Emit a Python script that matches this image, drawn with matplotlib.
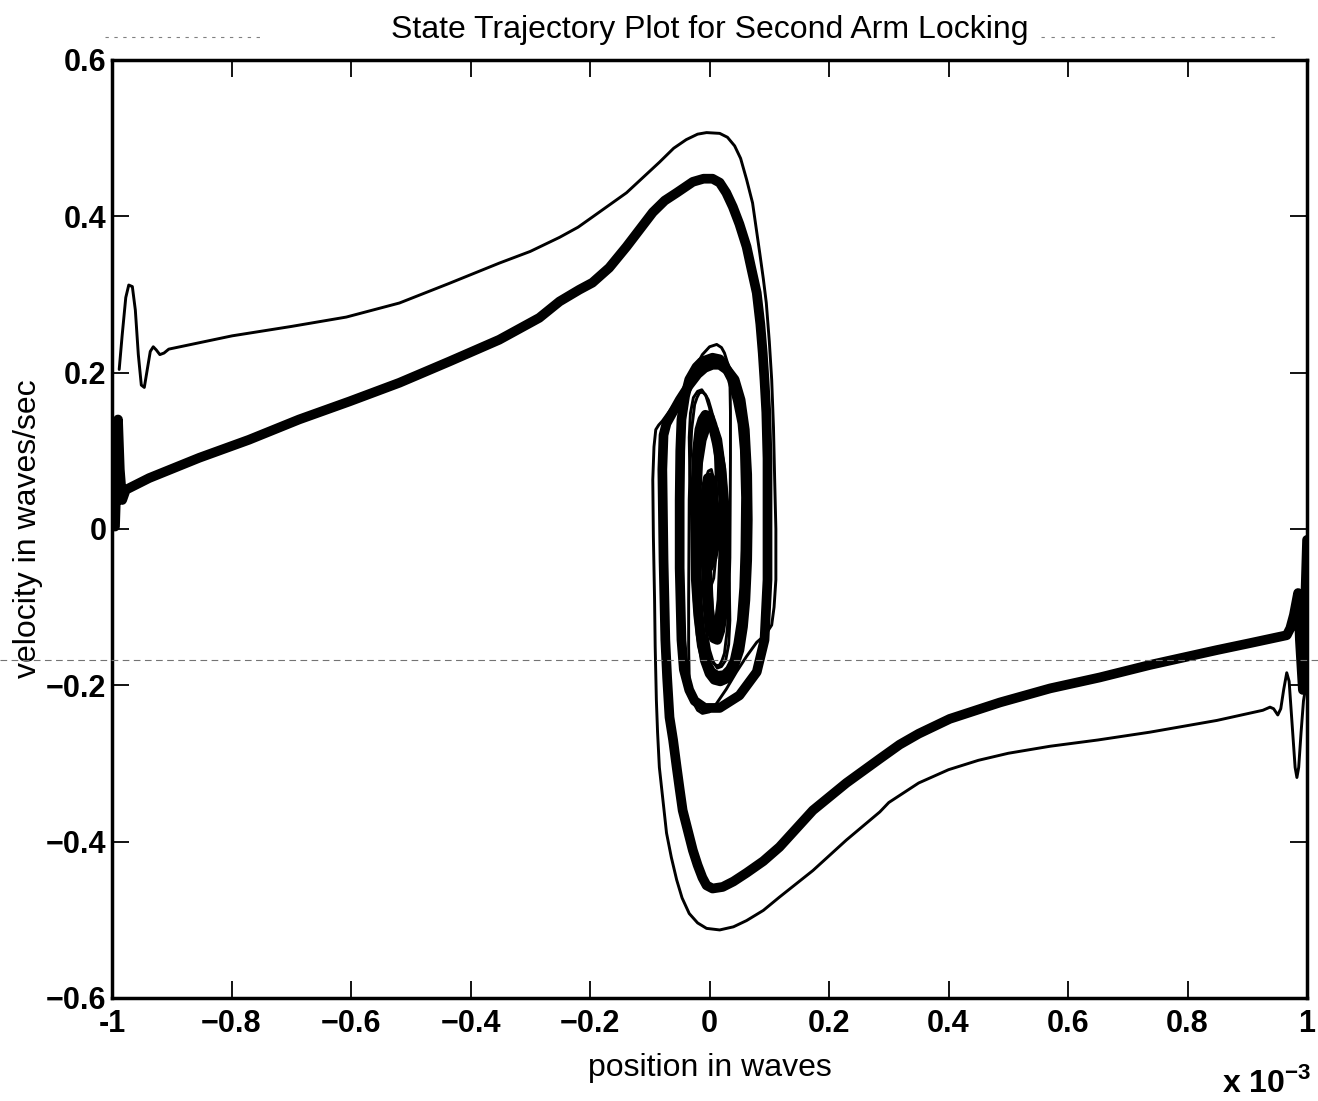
import numpy as np
import matplotlib.pyplot as plt
from matplotlib.lines import Line2D

# position in units of 1e-3 waves, velocity in waves/sec
# thin trajectory starting at the left edge
thin_a_x = [-0.988, -0.983, -0.977, -0.972, -0.966, -0.961, -0.956, -0.951, -0.946, -0.941,
            -0.936, -0.931, -0.926, -0.920, -0.913, -0.905, -0.799, -0.700, -0.608, -0.519,
            -0.436, -0.352, -0.300, -0.251, -0.220, -0.196, -0.139, -0.084, -0.060, -0.039,
            -0.020, -0.005, 0.017, 0.030, 0.042, 0.052, 0.062, 0.072, 0.084, 0.090,
            0.095, 0.100, 0.104, 0.107, 0.109, 0.111, 0.111, 0.108, 0.104, 0.094,
            0.079, 0.062, 0.045, 0.028, 0.012, 0.000, -0.012, -0.020, -0.025, -0.031,
            -0.034, -0.035, -0.035, -0.034, -0.032, -0.030, -0.027, -0.025, -0.021, -0.017,
            -0.012, -0.007, -0.002, 0.003, 0.012, 0.020, 0.026, 0.030, 0.033, 0.034,
            0.032, 0.027, 0.020, 0.013, 0.006, 0.000, -0.006, -0.010, -0.012, -0.012,
            -0.010, -0.007, -0.002, 0.003, 0.007, 0.010, 0.011, 0.010, 0.007, 0.003,
            -0.001, -0.003, 0.000]
thin_a_y = [0.204, 0.248, 0.296, 0.312, 0.310, 0.280, 0.223, 0.184, 0.181, 0.204,
            0.227, 0.233, 0.229, 0.223, 0.225, 0.230, 0.247, 0.259, 0.271, 0.289,
            0.314, 0.340, 0.355, 0.373, 0.386, 0.399, 0.430, 0.469, 0.487, 0.498,
            0.505, 0.507, 0.506, 0.501, 0.490, 0.474, 0.447, 0.417, 0.353, 0.320,
            0.289, 0.240, 0.191, 0.130, 0.063, 0.000, -0.065, -0.100, -0.123, -0.135,
            -0.145, -0.163, -0.183, -0.205, -0.223, -0.234, -0.236, -0.232, -0.225, -0.210,
            -0.193, -0.150, -0.091, 0.037, 0.090, 0.127, 0.146, 0.159, 0.168, 0.174,
            0.175, 0.172, 0.165, 0.152, 0.125, 0.088, 0.040, -0.014, -0.070, -0.117,
            -0.148, -0.168, -0.176, -0.178, -0.170, -0.155, -0.128, -0.091, -0.045, 0.000,
            0.040, 0.063, 0.074, 0.076, 0.062, 0.037, 0.005, -0.027, -0.045, -0.052,
            -0.040, -0.014, 0.018]

# thin trajectory starting at the right edge
thin_b_x = [0.997, 0.994, 0.990, 0.986, 0.983, 0.980, 0.975, 0.970, 0.966, 0.961,
            0.956, 0.951, 0.944, 0.938, 0.926, 0.849, 0.737, 0.650, 0.570, 0.500,
            0.450, 0.400, 0.350, 0.300, 0.285, 0.229, 0.173, 0.117, 0.090, 0.062,
            0.040, 0.017, -0.005, -0.020, -0.034, -0.046, -0.055, -0.064, -0.072, -0.084,
            -0.087, -0.089, -0.091, -0.092, -0.094, -0.095, -0.093, -0.090, -0.085, -0.079,
            -0.062, -0.045, -0.028, -0.012, 0.000, 0.012, 0.020, 0.025, 0.031, 0.034,
            0.035, 0.035, 0.034, 0.032, 0.030, 0.027, 0.025, 0.021, 0.017, 0.012,
            0.007, 0.002, -0.003, -0.012, -0.020, -0.026, -0.030, -0.033, -0.034, -0.032,
            -0.027, -0.020, -0.013, -0.006, 0.000, 0.006, 0.010, 0.012, 0.012, 0.010,
            0.007, 0.002, -0.003, -0.007, -0.010, -0.011, -0.010, -0.007, -0.003]
thin_b_y = [-0.206, -0.220, -0.260, -0.305, -0.318, -0.305, -0.250, -0.195, -0.184, -0.205,
            -0.230, -0.238, -0.230, -0.228, -0.232, -0.245, -0.260, -0.270, -0.278, -0.287,
            -0.296, -0.308, -0.325, -0.350, -0.362, -0.398, -0.437, -0.471, -0.488, -0.501,
            -0.509, -0.513, -0.511, -0.504, -0.492, -0.472, -0.449, -0.420, -0.389, -0.305,
            -0.260, -0.219, -0.150, -0.091, -0.010, 0.063, 0.105, 0.127, 0.133, 0.138,
            0.156, 0.174, 0.200, 0.223, 0.233, 0.236, 0.232, 0.225, 0.210, 0.193,
            0.150, 0.091, -0.037, -0.090, -0.127, -0.146, -0.159, -0.168, -0.174, -0.175,
            -0.172, -0.165, -0.152, -0.125, -0.088, -0.040, 0.014, 0.070, 0.117, 0.148,
            0.168, 0.176, 0.178, 0.170, 0.155, 0.128, 0.091, 0.045, 0.000, -0.040,
            -0.063, -0.074, -0.076, -0.062, -0.037, -0.005, 0.027, 0.045, 0.052]

# thick trajectory starting at the left edge
thick_c_x = [-0.995, -0.992, -0.990, -0.987, -0.983, -0.977, -0.938, -0.854, -0.771, -0.687,
             -0.603, -0.519, -0.436, -0.352, -0.285, -0.251, -0.218, -0.196, -0.168, -0.139,
             -0.095, -0.075, -0.055, -0.028, -0.010, 0.005, 0.017, 0.028, 0.039, 0.050,
             0.062, 0.070, 0.079, 0.085, 0.089, 0.092, 0.095, 0.097, 0.097, 0.097,
             0.092, 0.079, 0.050, 0.017, -0.008, -0.025, -0.034, -0.043, -0.047, -0.050,
             -0.050, -0.049, -0.047, -0.041, -0.034, -0.022, -0.013, 0.005, 0.017, 0.025,
             0.037, 0.047, 0.055, 0.059, 0.061, 0.060, 0.058, 0.054, 0.048, 0.042,
             0.034, 0.025, 0.013, 0.003, -0.006, -0.013, -0.019, -0.023, -0.024, -0.023,
             -0.021, -0.017, -0.012, -0.007, 0.000, 0.005, 0.012, 0.020, 0.025, 0.027,
             0.026, 0.023, 0.018, 0.013, 0.007, 0.003, -0.001, -0.003, -0.006, -0.008,
             -0.006, -0.003, 0.001, 0.005, 0.008, 0.010, 0.008, 0.005, 0.001, -0.002, 0.000]
thick_c_y = [0.003, 0.076, 0.140, 0.076, 0.037, 0.050, 0.065, 0.091, 0.114, 0.140,
             0.163, 0.187, 0.214, 0.242, 0.270, 0.291, 0.306, 0.315, 0.334, 0.361,
             0.405, 0.420, 0.430, 0.444, 0.448, 0.448, 0.443, 0.430, 0.412, 0.390,
             0.361, 0.333, 0.302, 0.262, 0.225, 0.190, 0.149, 0.090, 0.037, -0.065,
             -0.142, -0.183, -0.213, -0.229, -0.229, -0.220, -0.206, -0.180, -0.142, -0.050,
             0.037, 0.100, 0.140, 0.170, 0.191, 0.207, 0.214, 0.219, 0.217, 0.210,
             0.192, 0.165, 0.135, 0.101, 0.040, -0.027, -0.075, -0.117, -0.147, -0.168,
             -0.180, -0.187, -0.188, -0.183, -0.170, -0.149, -0.110, -0.065, 0.000, 0.063,
             0.100, 0.127, 0.140, 0.146, 0.144, 0.133, 0.110, 0.076, 0.030, -0.014,
             -0.060, -0.104, -0.130, -0.142, -0.140, -0.129, -0.100, -0.065, -0.020, 0.024,
             0.052, 0.065, 0.066, 0.056, 0.030, -0.001, -0.025, -0.037, -0.035, -0.020, 0.005]

# thick trajectory starting at the right edge
thick_d_x = [1.000, 0.997, 0.993, 0.988, 0.985, 0.978, 0.972, 0.966, 0.905, 0.849,
             0.737, 0.653, 0.570, 0.486, 0.402, 0.350, 0.318, 0.285, 0.229, 0.173,
             0.117, 0.090, 0.062, 0.040, 0.022, 0.005, -0.005, -0.012, -0.020, -0.028,
             -0.045, -0.050, -0.055, -0.061, -0.067, -0.071, -0.074, -0.077, -0.079, -0.077,
             -0.072, -0.064, -0.050, -0.034, -0.020, -0.008, 0.005, 0.017, 0.030, 0.042,
             0.052, 0.059, 0.063, 0.064, 0.063, 0.060, 0.056, 0.050, 0.040, 0.030,
             0.018, 0.008, 0.000, -0.008, -0.015, -0.020, -0.022, -0.022, -0.019, -0.013,
             -0.007, 0.000, 0.007, 0.013, 0.019, 0.023, 0.023, 0.020, 0.016, 0.010,
             0.004, 0.000, -0.004, -0.005, -0.004, -0.002, 0.002, 0.005, 0.007, 0.002]
thick_d_y = [-0.014, -0.091, -0.206, -0.142, -0.082, -0.110, -0.127, -0.136, -0.146, -0.155,
             -0.174, -0.190, -0.204, -0.222, -0.243, -0.262, -0.276, -0.294, -0.325, -0.360,
             -0.407, -0.425, -0.440, -0.451, -0.458, -0.460, -0.456, -0.446, -0.430, -0.411,
             -0.360, -0.333, -0.305, -0.270, -0.241, -0.190, -0.142, -0.040, 0.076, 0.120,
             0.135, 0.146, 0.165, 0.184, 0.198, 0.206, 0.210, 0.210, 0.203, 0.191,
             0.165, 0.127, 0.070, 0.012, -0.040, -0.091, -0.125, -0.155, -0.178, -0.191,
             -0.195, -0.193, -0.185, -0.168, -0.135, -0.091, -0.030, 0.037, 0.085, 0.114,
             0.128, 0.133, 0.128, 0.114, 0.080, 0.037, -0.030, -0.091, -0.118, -0.129,
             -0.124, -0.110, -0.070, -0.027, 0.020, 0.050, 0.048, 0.037, -0.014, -0.040]

x_ticks = [-1, -0.8, -0.6, -0.4, -0.2, 0, 0.2, 0.4, 0.6, 0.8, 1]
x_tick_labels = ['-1', '\u22120.8', '\u22120.6', '\u22120.4', '\u22120.2', '0', '0.2', '0.4', '0.6', '0.8', '1']
y_ticks = [-0.6, -0.4, -0.2, 0, 0.2, 0.4, 0.6]
y_tick_labels = ['\u22120.6', '\u22120.4', '\u22120.2', '0', '0.2', '0.4', '0.6']

plt.rcParams['font.family'] = ['Liberation Sans', 'DejaVu Sans']

fig = plt.figure(figsize=(13.18, 11.01), dpi=100)
ax = fig.add_axes([0.085, 0.0936, 0.9067, 0.852])

thin_style = dict(color='black', lw=2.1, solid_joinstyle='round', solid_capstyle='round')
thick_style = dict(color='black', lw=7, solid_joinstyle='round', solid_capstyle='round')
ax.plot(thin_a_x, thin_a_y, **thin_style)
ax.plot(thin_b_x, thin_b_y, **thin_style)
ax.plot(thick_c_x, thick_c_y, **thick_style)
ax.plot(thick_d_x, thick_d_y, **thick_style)

ax.set_xlim(-1, 1)
ax.set_ylim(-0.6, 0.6)
ax.set_xticks(x_ticks)
ax.set_xticklabels(x_tick_labels)
ax.set_yticks(y_ticks)
ax.set_yticklabels(y_tick_labels)
ax.tick_params(direction='in', length=12, width=1.3, top=True, right=True,
               labelsize=22)
ax.tick_params(axis='y', pad=4)
ax.tick_params(axis='x', pad=8)
for lbl in ax.get_xticklabels() + ax.get_yticklabels():
    lbl.set_fontweight('bold')
for sp in ax.spines.values():
    sp.set_linewidth(2.5)

ax.set_title('State Trajectory Plot for Second Arm Locking', fontsize=23, pad=16)
ax.set_xlabel('position in waves', fontsize=23, labelpad=10)
ax.set_ylabel('velocity in waves/sec', fontsize=23, labelpad=2)
fig.text(0.927, 0.008, 'x 10$^{\\mathregular{-3}}$', fontsize=23, fontweight='bold')

# faint dashed scan lines across the page
fig.add_artist(Line2D([0, 1], [0.4005, 0.4005], transform=fig.transFigure,
                      color='0.45', lw=0.8, ls=(0, (6, 4))))
fig.add_artist(Line2D([0.08, 0.2], [0.966, 0.966], transform=fig.transFigure,
                      color='0.5', lw=0.8, ls=(0, (3, 5))))
fig.add_artist(Line2D([0.79, 0.97], [0.966, 0.966], transform=fig.transFigure,
                      color='0.5', lw=0.8, ls=(0, (3, 6))))

fig.savefig('out.png', dpi=100)
